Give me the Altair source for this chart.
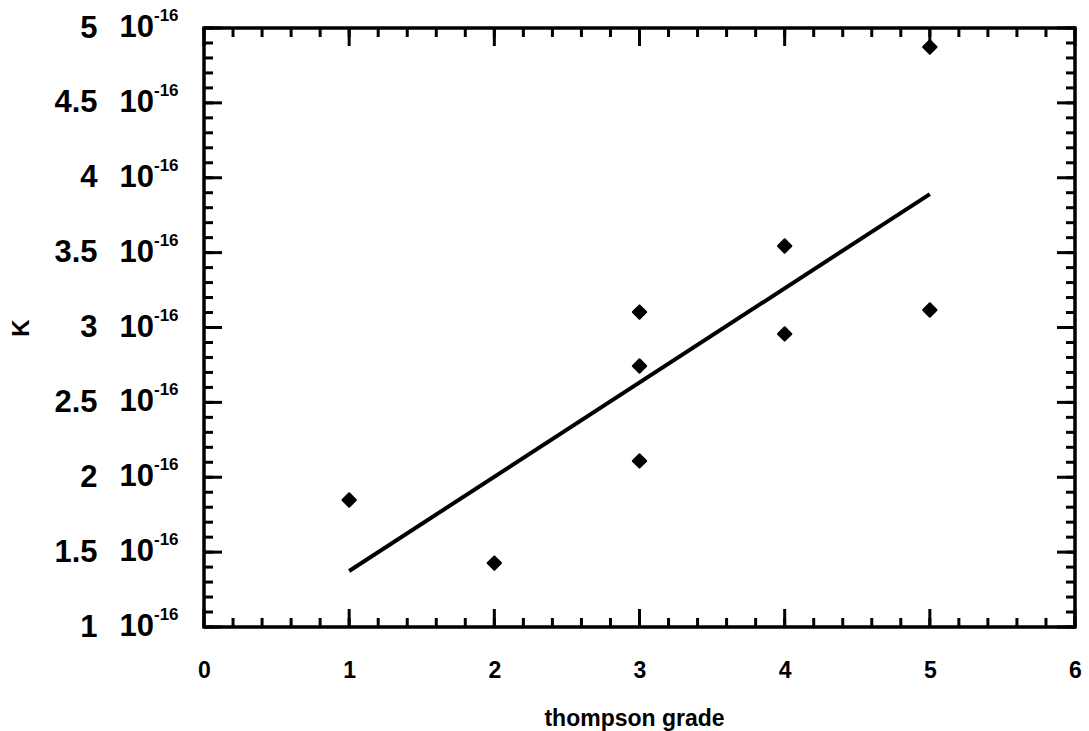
import altair as alt
import pandas as pd
import numpy as np

# data (K values expressed as multiples of 1e-16)
grade = [1, 2, 3, 3, 3, 4, 4, 5, 5]
k_mant = [1.848, 1.427, 3.103, 2.743, 2.109, 3.544, 2.957, 4.873, 3.117]
fit_grade = [1, 5]
fit_k = [1.374, 3.891]
exponent_label = "-16"

x_major = [0, 1, 2, 3, 4, 5, 6]
x_minor = list(np.round(np.arange(0, 6.0001, 0.2), 2))
y_major = [1, 1.5, 2, 2.5, 3, 3.5, 4, 4.5, 5]
y_minor = list(np.round(np.arange(1, 5.0001, 0.1), 2))

W, H = 871, 599
FONT = "Liberation Sans"

xs = alt.Scale(domain=[0, 6], nice=False, zero=False)
ys = alt.Scale(domain=[1, 5], nice=False, zero=False)

pts = pd.DataFrame({"grade": grade, "K": k_mant})
fit = pd.DataFrame({"grade": fit_grade, "K": fit_k})

xaxis = alt.Axis(values=x_major, format="d", domain=False, ticks=False, grid=False,
                 labelFont=FONT, labelFontSize=23, labelFontWeight="bold", labelColor="black",
                 labelPadding=50, labelBaseline="alphabetic", labelFlush=False,
                 title="thompson grade", titleFont=FONT, titleFontSize=23, titleFontWeight="bold",
                 titleColor="black", titleX=430, titleY=98, titleBaseline="alphabetic", titleAlign="center")
yaxis = alt.Axis(values=y_major, format=".1~f", domain=False, ticks=False, grid=False,
                 labelFont=FONT, labelFontSize=31, labelFontWeight="bold", labelColor="black",
                 labelPadding=107, labelBaseline="middle", labelAlign="right", labelFlush=False,
                 title="K", titleFont=FONT, titleFontSize=24, titleFontWeight="bold", titleColor="black",
                 titleAngle=270, titleX=-183, titleY=H / 2, titleBaseline="middle", titleAlign="center")

X = alt.X("grade:Q", scale=xs, axis=xaxis, title="thompson grade")
Y = alt.Y("K:Q", scale=ys, axis=yaxis, title="K")

line = alt.Chart(fit).mark_line(color="black", strokeWidth=4).encode(x=X, y=Y)

points = alt.Chart(pts).mark_point(shape="diamond", filled=True, color="black", size=180,
                                   stroke="black", strokeWidth=2, strokeJoin="round", opacity=1).encode(x=X, y=Y)

layers = [line, points]


def yticks(vals, length):
    base = alt.Chart(pd.DataFrame({"K": vals}))
    left = base.mark_rule(color="black", strokeWidth=3).encode(y=Y, x=alt.value(0), x2=alt.value(length))
    right = base.mark_rule(color="black", strokeWidth=3).encode(y=Y, x=alt.value(W), x2=alt.value(W - length))
    return [left, right]


def xticks(vals, length):
    base = alt.Chart(pd.DataFrame({"grade": vals}))
    bottom = base.mark_rule(color="black", strokeWidth=3).encode(x=X, y=alt.value(H), y2=alt.value(H - length))
    top = base.mark_rule(color="black", strokeWidth=3).encode(x=X, y=alt.value(0), y2=alt.value(length))
    return [bottom, top]


layers += yticks(y_minor, 9) + yticks(y_major, 18) + xticks(x_minor, 9) + xticks(x_major, 18)

ylab = alt.Chart(pd.DataFrame({"K": y_major}))
ten = ylab.mark_text(align="right", baseline="middle", font=FONT, fontSize=31, fontWeight="bold",
                     color="black", text="10").encode(y=Y, x=alt.value(-50))
sup = ylab.mark_text(align="left", baseline="middle", font=FONT, fontSize=17, fontWeight="bold",
                     color="black", text=exponent_label, dy=-12).encode(y=Y, x=alt.value(-50))
layers += [ten, sup]

chart = alt.layer(*layers).properties(
    width=W, height=H,
    autosize=alt.AutoSizeParams(type="none"),
    padding={"left": 204, "top": 28, "right": 14, "bottom": 104},
    background="white",
).configure_view(stroke="black", strokeWidth=3.5)

chart.save("out.html", embed_options={"renderer": "svg", "actions": False})
